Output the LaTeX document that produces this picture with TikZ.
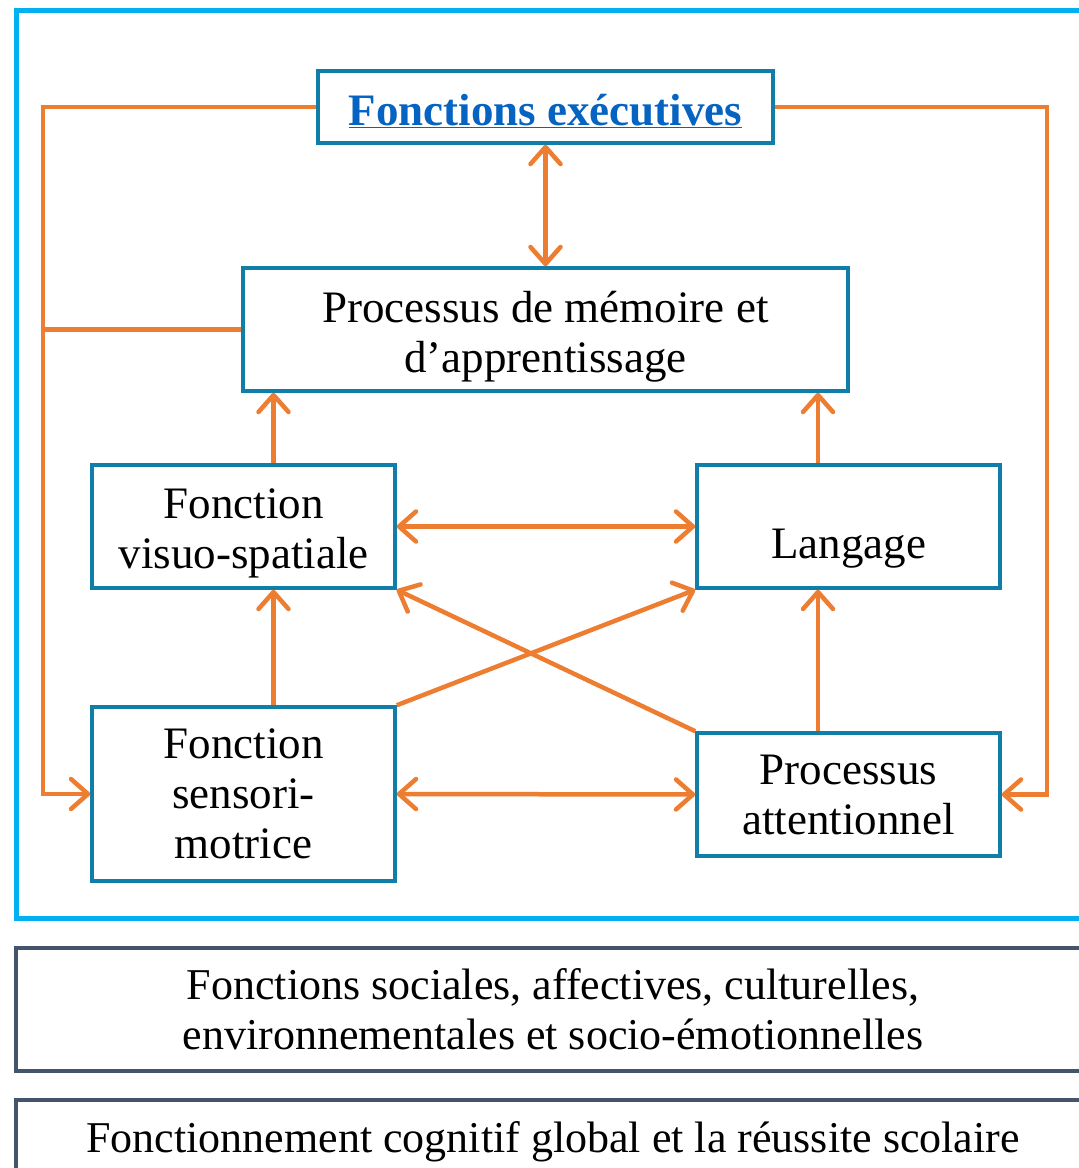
\documentclass[tikz,border=0pt]{standalone}
\usepackage{fontspec}
\setmainfont{Liberation Serif}
\usetikzlibrary{arrows.meta}
\definecolor{frcyan}{RGB}{0,176,240}
\definecolor{frteal}{RGB}{16,126,168}
\definecolor{frorange}{RGB}{237,125,49}
\definecolor{frslate}{RGB}{68,84,106}
\definecolor{frlink}{RGB}{5,99,193}
\tikzset{
  fbox/.style={draw=frteal, line width=3.5pt, inner sep=0pt, align=center, font=\fontsize{45}{50}\selectfont,
    execute at begin node=\rule{0pt}{39pt}},
  sbox/.style={draw=frslate, line width=3.5pt, inner sep=0pt, align=center, font=\fontsize{44}{50}\selectfont,
    execute at begin node=\rule{0pt}{38pt}},
  link/.style={draw=frorange, line width=4.5pt},
  arr/.style={link, -{Straight Barb[length=17pt,width=30pt,round]}},
  darr/.style={link, {Straight Barb[length=17pt,width=30pt,round]}-{Straight Barb[length=17pt,width=30pt,round]}}
}
\begin{document}
\begin{tikzpicture}[x=1pt, y=-1pt]
  \useasboundingbox (0,0) rectangle (1079,1168);
  \clip (0,0) rectangle (1079,1168);

  % Frame
  \draw[frcyan, line width=5pt] (16.5,10.5) rectangle (1095,918.5);

  % Boxes
  \node[fbox, minimum width=455pt, minimum height=72pt] (exec) at (545.5,107)
    {\textcolor{frlink}{\textbf{\underline{Fonctions exécutives}}}};
  \node[fbox, minimum width=605pt, minimum height=123pt] (memo) at (545.5,329.5)
    {\rule{0pt}{45pt}Processus de mémoire et\\d’apprentissage};
  \node[fbox, minimum width=303pt, minimum height=123pt] (visuo) at (243.5,526.5)
    {\rule{0pt}{44pt}Fonction\\visuo-spatiale};
  \node[fbox, minimum width=303pt, minimum height=123pt,
    label={[font=\fontsize{45}{50}\selectfont, yshift=-22pt]center:Langage}] (lang) at (848.5,526.5) {};
  \node[fbox, minimum width=303pt, minimum height=174pt] (senso) at (243.5,794)
    {Fonction\\sensori-\\motrice};
  \node[fbox, minimum width=303pt, minimum height=123pt] (atten) at (848.5,794.5)
    {Processus\\attentionnel};

  % Bottom boxes
  \node[sbox, minimum width=1074pt, minimum height=123pt] (social) at (553,1009.5)
    {Fonctions sociales, affectives, culturelles,\\environnementales et socio-émotionnelles};
  \node[sbox, minimum width=1074pt, minimum height=76pt] (global) at (553,1138)
    {Fonctionnement cognitif global et la réussite scolaire};

  % Side rails
  \coordinate (lrail) at (43,107);
  \coordinate (rrail) at (1047,107);
  \draw[arr] (exec.west) -- (lrail) |- (senso.west);
  \draw[link] (memo.west) -- (memo.west -| lrail);
  \draw[arr] (exec.east) -- (rrail) |- (atten.east);

  % Arrows
  \draw[darr] (exec.south) -- (memo.north);
  \draw[arr] ([xshift=30pt]visuo.north) -- ([xshift=30pt]visuo.north |- memo.south);
  \draw[arr] ([xshift=-30.5pt]lang.north) -- ([xshift=-30.5pt]lang.north |- memo.south);
  \draw[arr] ([xshift=30pt]senso.north) -- ([xshift=30pt]senso.north |- visuo.south);
  \draw[arr] ([xshift=-30.5pt]atten.north) -- ([xshift=-30.5pt]atten.north |- lang.south);
  \draw[darr] (visuo.east) -- (lang.west);
  \draw[darr] (senso.east) -- (atten.west);
  \draw[arr] (senso.north east) -- (lang.south west);
  \draw[arr] (atten.north west) -- (visuo.south east);
\end{tikzpicture}
\end{document}
